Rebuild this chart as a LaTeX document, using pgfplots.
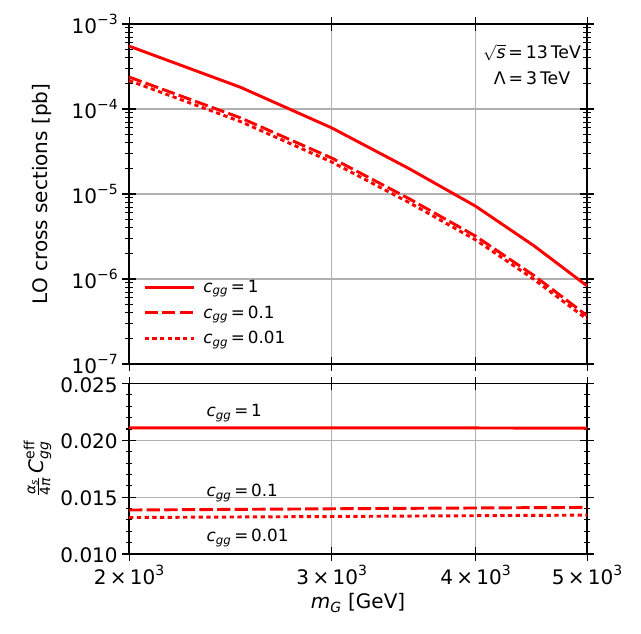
\documentclass[border=0pt]{standalone}
\usepackage{fontspec}
\setmainfont{DejaVu Sans}
\usepackage{amsmath}
\usepackage{pgfplots}
\pgfplotsset{compat=1.18}
\definecolor{gridc}{RGB}{176,176,176}
\definecolor{mplred}{RGB}{255,0,0}
\newcommand{\cgg}{\textit{c}\textsubscript{\textit{gg}}}
\newcommand{\sups}[1]{\raisebox{0.42em}{\fontsize{10.5}{12}\selectfont #1}}
\pgfplotstableread{
x s1 s01 s001
2000 5.5e-4 2.38e-4 2.16e-4
2500 1.8e-4 7.87e-5 7.11e-5
3000 6.0e-5 2.65e-5 2.38e-5
3500 2.0e-5 8.86e-6 7.98e-6
4000 7.2e-6 3.20e-6 2.89e-6
4500 2.44e-6 1.09e-6 9.83e-7
5000 8.3e-7 3.71e-7 3.36e-7
}\xsec
\pgfplotstableread{
x c1 c01 c001
2000 0.02110 0.01387 0.01321
2500 0.02110 0.01393 0.01326
3000 0.02110 0.01398 0.01330
3500 0.02109 0.01402 0.01334
4000 0.02109 0.01405 0.01337
4500 0.02108 0.01408 0.01340
5000 0.02108 0.01410 0.01342
}\ceff
\begin{document}
\begin{tikzpicture}
\path[use as bounding box] (0,0) rectangle (480.75pt,-474.75pt);
\begin{axis}[
  scale only axis, width=343.5pt, height=255pt,
  at={(96.75pt,-273pt)}, anchor=south west,
  tick align=center,
  major tick length=10pt, minor tick length=5pt,
  tick style={black, line width=0.8pt},
  axis line style={line width=0.9pt},
  grid=major, major grid style={gridc, line width=0.9pt},
  tick label style={font=\fontsize{15}{17}\selectfont},
  label style={font=\fontsize{15}{17}\selectfont},
  xmode=log, xmin=2000, xmax=5000,
  xtick={2000,3000,4000,5000}, minor xtick={},
  ymode=log, ymin=1e-7, ymax=1e-3,
  xticklabels={},
  ytick={1e-7,1e-6,1e-5,1e-4,1e-3},
  minor ytick={},
  extra y ticks={2e-7,3e-7,4e-7,5e-7,6e-7,7e-7,8e-7,9e-7,
    2e-6,3e-6,4e-6,5e-6,6e-6,7e-6,8e-6,9e-6,
    2e-5,3e-5,4e-5,5e-5,6e-5,7e-5,8e-5,9e-5,
    2e-4,3e-4,4e-4,5e-4,6e-4,7e-4,8e-4,9e-4},
  extra y tick labels={},
  extra y tick style={grid=none, major tick length=6pt, major tick style={black, line width=0.75pt}},
  yticklabels={10\sups{−7},10\sups{−6},10\sups{−5},10\sups{−4},10\sups{−3}},
  ylabel={LO cross sections [pb]},
  legend style={draw=none, fill=none, at={(0.03,0.045)}, anchor=south west,
    font=\fontsize{12.6}{14}\selectfont, row sep=4.4pt, inner sep=0pt},
  legend cell align=left,
  legend image code/.code={\draw[#1] (0pt,0pt) -- (37pt,0pt); \path (41pt,0pt);},
]
\addplot[mplred, line width=2.2pt, line join=round] table[x=x,y=s1] {\xsec};
\addlegendentry{\cgg\,=\,1}
\addplot[mplred, line width=2.2pt, dash pattern=on 10pt off 3.2pt] table[x=x,y=s01] {\xsec};
\addlegendentry{\cgg\,=\,0.1}
\addplot[mplred, line width=2.2pt, dash pattern=on 3.2pt off 2.6pt] table[x=x,y=s001] {\xsec};
\addlegendentry{\cgg\,=\,0.01}
\node[align=center, font=\fontsize{13}{19}\selectfont] at (rel axis cs:0.88,0.881)
  {$\sqrt{\textit{s}}$\,=\,13\,TeV\\Λ\,=\,3\,TeV};
\end{axis}
\begin{axis}[
  scale only axis, width=343.5pt, height=127.875pt,
  at={(96.75pt,-415.5pt)}, anchor=south west,
  tick align=center,
  major tick length=10pt, minor tick length=5pt,
  tick style={black, line width=0.8pt},
  axis line style={line width=0.9pt},
  grid=major, major grid style={gridc, line width=0.9pt},
  tick label style={font=\fontsize{15}{17}\selectfont},
  label style={font=\fontsize{15}{17}\selectfont},
  xmode=log, xmin=2000, xmax=5000,
  xtick={2000,3000,4000,5000}, minor xtick={},
  ymin=0.010, ymax=0.025, scaled y ticks=false,
  xticklabels={2\,×\,10\sups{3},3\,×\,10\sups{3},4\,×\,10\sups{3},5\,×\,10\sups{3}},
  ytick={0.010,0.015,0.020,0.025},
  yticklabels={0.010,0.015,0.020,0.025},
  yticklabel style={yshift=-1pt},
  minor y tick num=4,
  xlabel={\textit{m}\textsubscript{\textit{G}} [GeV]},
  ylabel={$\frac{\textit{α}_{\textit{s}}}{\text{4}\textit{π}}\,\textit{C}^{\text{eff}}_{\textit{gg}}$},
]
\addplot[mplred, line width=2.2pt] table[x=x,y=c1] {\ceff};
\addplot[mplred, line width=2.2pt, dash pattern=on 10pt off 3.2pt] table[x=x,y=c01] {\ceff};
\addplot[mplred, line width=2.2pt, dash pattern=on 3.2pt off 2.6pt] table[x=x,y=c001] {\ceff};
\node[anchor=west, font=\fontsize{12.6}{14}\selectfont] at (axis cs:2314,0.02241) {\cgg\,=\,1};
\node[anchor=west, font=\fontsize{12.6}{14}\selectfont] at (axis cs:2314,0.01537) {\cgg\,=\,0.1};
\node[anchor=west, font=\fontsize{12.6}{14}\selectfont] at (axis cs:2314,0.01141) {\cgg\,=\,0.01};
\end{axis}
\end{tikzpicture}
\end{document}
